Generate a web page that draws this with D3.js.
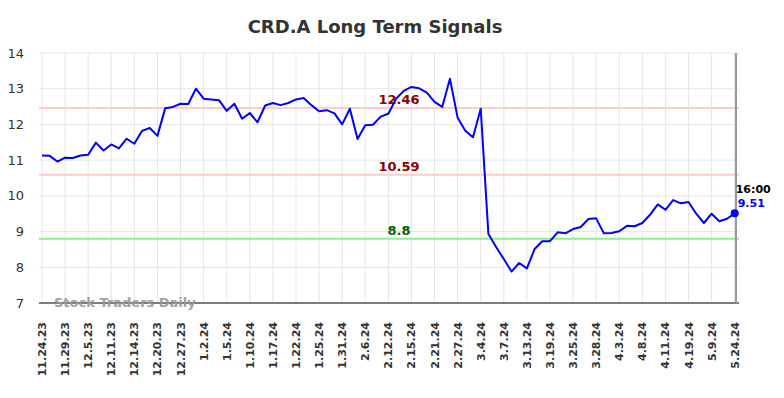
<!DOCTYPE html>
<html>
<head>
<meta charset="utf-8">
<script src="https://cdn.jsdelivr.net/npm/d3@7"></script>
<style>
  body { margin: 0; background: #fff; }
  svg { font-family: 'DejaVu Sans', sans-serif; }
</style>
</head>
<body>
<svg id="chart" width="784" height="398"></svg>
<script>
const tickLabels = ['11.24.23', '11.29.23', '12.5.23', '12.11.23', '12.14.23', '12.20.23', '12.27.23',
  '1.2.24', '1.5.24', '1.10.24', '1.17.24', '1.22.24', '1.25.24', '1.31.24', '2.6.24', '2.12.24',
  '2.15.24', '2.21.24', '2.27.24', '3.4.24', '3.7.24', '3.13.24', '3.19.24', '3.25.24', '3.28.24',
  '4.3.24', '4.8.24', '4.11.24', '4.19.24', '5.9.24', '5.24.24'];

// closing prices, one every trading day (tick every 3rd point)
const prices = [
  11.13, 11.12, 10.96, 11.07, 11.06, 11.13, 11.15, 11.49, 11.27, 11.44,
  11.33, 11.60, 11.46, 11.82, 11.90, 11.68, 12.45, 12.49, 12.58, 12.57,
  13.00, 12.72, 12.70, 12.68, 12.38, 12.58, 12.16, 12.32, 12.06, 12.53,
  12.60, 12.54, 12.60, 12.70, 12.74, 12.54, 12.37, 12.40, 12.31, 12.00,
  12.44, 11.59, 11.98, 11.99, 12.22, 12.30, 12.72, 12.94, 13.05, 13.01,
  12.89, 12.63, 12.49, 13.28, 12.19, 11.82, 11.64, 12.44, 8.93, 8.57,
  8.23, 7.88, 8.12, 7.97, 8.51, 8.73, 8.73, 8.98, 8.95, 9.07,
  9.13, 9.35, 9.37, 8.95, 8.96, 9.01, 9.16, 9.15, 9.24, 9.47,
  9.76, 9.61, 9.88, 9.79, 9.83, 9.50, 9.24, 9.50, 9.29, 9.36,
  9.51];

const signalLevels = [12.46, 10.59];
const supportLevel = 8.8;
const yTicks = [7, 8, 9, 10, 11, 12, 13, 14];
const lastTime = '16:00';

const margin = { left: 42, right: 47, top: 53, bottom: 95 };
const W = 784, H = 398;
const svg = d3.select('#chart');

const x = d3.scaleLinear().domain([0, prices.length - 1]).range([margin.left, W - margin.right - 2.3]);
const y = d3.scaleLinear().domain([7, 14]).range([H - margin.bottom, margin.top]);
const plotRight = W - margin.right;

// title
svg.append('text')
  .attr('x', 375).attr('y', 33)
  .attr('text-anchor', 'middle')
  .attr('font-size', 18).attr('font-weight', 'bold').attr('fill', '#333')
  .text('CRD.A Long Term Signals');

// grid
const g = svg.append('g');
g.selectAll('.hgrid').data(yTicks).enter().append('line')
  .attr('x1', margin.left - 3).attr('x2', plotRight + 2)
  .attr('y1', d => y(d)).attr('y2', d => y(d))
  .attr('stroke', '#e6e6e6').attr('stroke-width', 1);
g.selectAll('.vgrid').data(tickLabels).enter().append('line')
  .attr('x1', (d, i) => x(i * 3)).attr('x2', (d, i) => x(i * 3))
  .attr('y1', margin.top).attr('y2', y(7))
  .attr('stroke', '#e6e6e6').attr('stroke-width', 1);

// y labels
g.selectAll('.ylab').data(yTicks).enter().append('text')
  .attr('x', 24).attr('y', d => y(d) + 4.5)
  .attr('text-anchor', 'end')
  .attr('font-size', 13).attr('fill', '#333')
  .text(d => d);

// x labels
g.selectAll('.xlab').data(tickLabels).enter().append('text')
  .attr('transform', (d, i) => `translate(${x(i * 3) + 4},322) rotate(-90)`)
  .attr('text-anchor', 'end')
  .attr('font-size', 11).attr('font-weight', 'bold').attr('fill', '#333')
  .text(d => d);

// signal lines
svg.selectAll('.sig').data(signalLevels).enter().append('line')
  .attr('x1', margin.left - 3).attr('x2', plotRight + 2)
  .attr('y1', d => y(d)).attr('y2', d => y(d))
  .attr('stroke', '#ffcccc').attr('stroke-width', 2);
svg.append('line')
  .attr('x1', margin.left - 3).attr('x2', plotRight + 2)
  .attr('y1', y(supportLevel)).attr('y2', y(supportLevel))
  .attr('stroke', '#90ee90').attr('stroke-width', 2);

svg.selectAll('.siglab').data(signalLevels).enter().append('text')
  .attr('x', 399).attr('y', d => y(d) - 4)
  .attr('text-anchor', 'middle')
  .attr('font-size', 13).attr('font-weight', 'bold').attr('fill', '#8b0000')
  .text(d => d.toFixed(2));
svg.append('text')
  .attr('x', 399).attr('y', y(supportLevel) - 4)
  .attr('text-anchor', 'middle')
  .attr('font-size', 13).attr('font-weight', 'bold').attr('fill', '#006400')
  .text(supportLevel);

// axis lines
svg.append('line')
  .attr('x1', margin.left - 3).attr('x2', plotRight + 2)
  .attr('y1', y(7)).attr('y2', y(7))
  .attr('stroke', '#555').attr('stroke-width', 1.5);
svg.append('line')
  .attr('x1', plotRight - 1).attr('x2', plotRight - 1)
  .attr('y1', margin.top).attr('y2', y(7))
  .attr('stroke', '#999').attr('stroke-width', 2);

// watermark
svg.append('text')
  .attr('x', 54).attr('y', 307)
  .attr('font-size', 13).attr('font-weight', 'bold').attr('fill', '#999')
  .attr('opacity', 0.9)
  .text('Stock Traders Daily');

// price line
const line = d3.line().x((d, i) => x(i)).y(d => y(d));
svg.append('path')
  .datum(prices)
  .attr('d', line)
  .attr('fill', 'none').attr('stroke', '#0000ff').attr('stroke-width', 2)
  .attr('stroke-linejoin', 'round');

const last = prices.length - 1;
svg.append('circle')
  .attr('cx', x(last)).attr('cy', y(prices[last])).attr('r', 4)
  .attr('fill', '#0000ff');
svg.append('text')
  .attr('x', x(last) + 1).attr('y', 193)
  .attr('font-size', 11).attr('font-weight', 'bold').attr('fill', '#000')
  .text(lastTime);
svg.append('text')
  .attr('x', x(last) + 3).attr('y', y(prices[last]) - 6)
  .attr('font-size', 11).attr('font-weight', 'bold').attr('fill', '#0000ff')
  .text(prices[last].toFixed(2));
</script>
</body>
</html>
